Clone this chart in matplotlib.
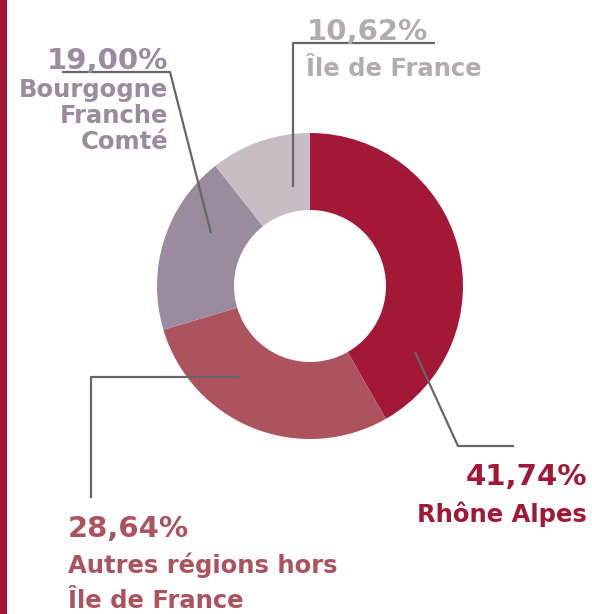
import matplotlib
matplotlib.use("Agg")
import matplotlib.pyplot as plt
from matplotlib.patches import Rectangle

regions = ["Rhône Alpes", "Autres régions hors\nÎle de France", "Bourgogne\nFranche\nComté", "Île de France"]
shares = [41.74, 28.64, 19.00, 10.62]
pct_labels = ["41,74%", "28,64%", "19,00%", "10,62%"]
colors = ["#A31737", "#AC535D", "#9B8B9F", "#C7BDC3"]
text_colors = ["#A31737", "#AC535D", "#9B8B9F", "#B2ADAD"]

W, H = 592, 614
fig = plt.figure(figsize=(W / 100, H / 100), dpi=100)
ax = fig.add_axes([0, 0, 1, 1])
ax.set_xlim(0, W)
ax.set_ylim(0, H)
ax.set_aspect("equal")
ax.axis("off")

def Y(y):
    return H - y

# left accent bar
ax.add_patch(Rectangle((0, 0), 7, H, color="#A31737", lw=0))

cx, cy, R = 310, 286, 153
ax.pie(shares, colors=colors, startangle=90, counterclock=False,
       center=(cx, Y(cy)), radius=R, wedgeprops=dict(width=77, lw=0),
       frame=True)
ax.set_xlim(0, W)
ax.set_ylim(0, H)
ax.axis("off")

FONT = "DejaVu Sans"
line_kw = dict(color="#666666", lw=1.6, solid_capstyle="butt")
pct_fs = 21
lab_fs = 17.5

# Rhône Alpes
ax.plot([415, 458, 514], [Y(352), Y(446), Y(446)], **line_kw)
ax.text(587, Y(485), pct_labels[0], ha="right", va="baseline", fontsize=pct_fs,
        fontweight="bold", color=text_colors[0], family=FONT)
ax.text(587, Y(522), regions[0], ha="right", va="baseline", fontsize=lab_fs,
        fontweight="bold", color=text_colors[0], family=FONT)

# Autres régions
ax.plot([239, 91, 91], [Y(377), Y(377), Y(498)], **line_kw)
ax.text(68, Y(537), pct_labels[1], ha="left", va="baseline", fontsize=pct_fs,
        fontweight="bold", color=text_colors[1], family=FONT)
for i, ln in enumerate(regions[1].split("\n")):
    ax.text(68, Y(573 + 35 * i), ln, ha="left", va="baseline", fontsize=lab_fs,
            fontweight="bold", color=text_colors[1], family=FONT)

# Bourgogne
ax.plot([211, 170, 62], [Y(233), Y(72), Y(72)], **line_kw)
ax.text(168, Y(69), pct_labels[2], ha="right", va="baseline", fontsize=pct_fs,
        fontweight="bold", color=text_colors[2], family=FONT)
for i, ln in enumerate(regions[2].split("\n")):
    ax.text(168, Y(97 + 26 * i), ln, ha="right", va="baseline", fontsize=lab_fs,
            fontweight="bold", color=text_colors[2], family=FONT)

# Île de France
ax.plot([293, 293, 435], [Y(187), Y(43), Y(43)], **line_kw)
ax.text(307, Y(40), pct_labels[3], ha="left", va="baseline", fontsize=pct_fs,
        fontweight="bold", color=text_colors[3], family=FONT)
ax.text(306, Y(76), regions[3], ha="left", va="baseline", fontsize=lab_fs,
        fontweight="bold", color=text_colors[3], family=FONT)

fig.savefig("out.png", dpi=100)
